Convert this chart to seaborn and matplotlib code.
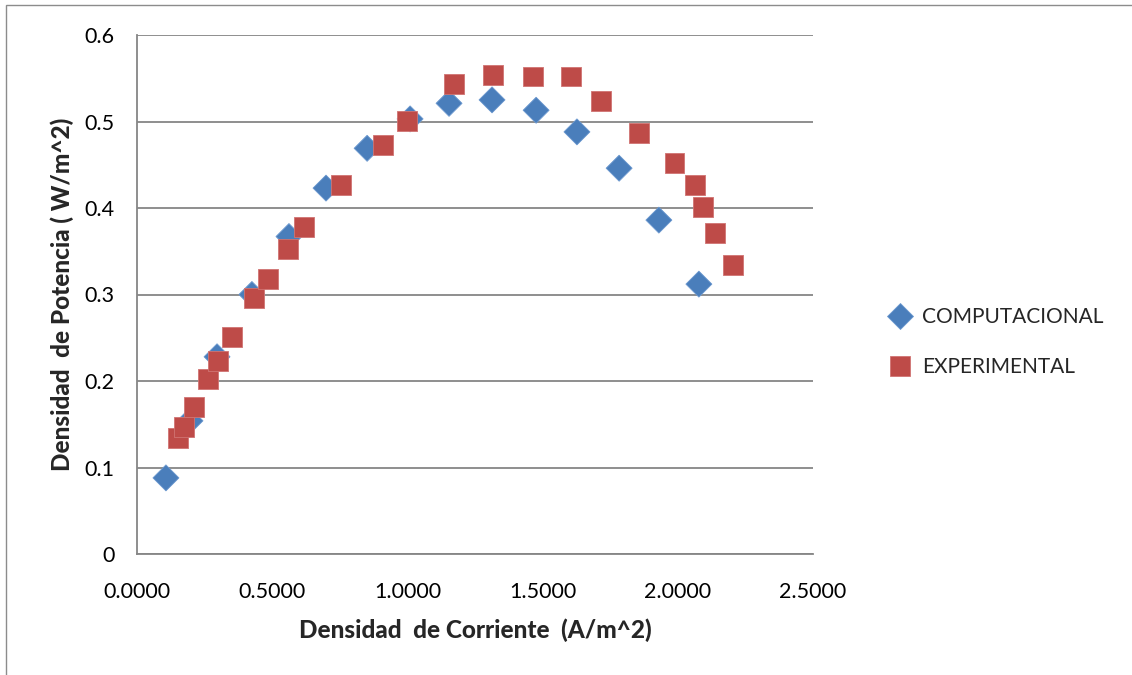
import matplotlib
matplotlib.use("Agg")
import matplotlib.pyplot as plt
import seaborn as sns
import pandas as pd
from matplotlib.patches import Rectangle
from matplotlib.ticker import FormatStrFormatter

comp_x = [0.107, 0.196, 0.296, 0.425, 0.562, 0.699, 0.851, 1.010, 1.154, 1.313,
          1.476, 1.627, 1.783, 1.930, 2.078]
comp_y = [0.088, 0.154, 0.228, 0.300, 0.367, 0.423, 0.469, 0.503, 0.521, 0.525,
          0.513, 0.488, 0.446, 0.386, 0.312]

exp_x = [0.152, 0.174, 0.211, 0.263, 0.300, 0.351, 0.433, 0.484, 0.558, 0.618,
         0.754, 0.910, 0.998, 1.172, 1.316, 1.464, 1.605, 1.716, 1.855, 1.988,
         2.063, 2.092, 2.137, 2.204]
exp_y = [0.134, 0.147, 0.170, 0.202, 0.223, 0.251, 0.296, 0.318, 0.353, 0.378,
         0.427, 0.473, 0.501, 0.543, 0.554, 0.552, 0.552, 0.524, 0.487, 0.452,
         0.427, 0.401, 0.371, 0.334]

series_names = ["COMPUTACIONAL", "EXPERIMENTAL"]
x_ticks = [0.0, 0.5, 1.0, 1.5, 2.0, 2.5]
y_ticks = [0, 0.1, 0.2, 0.3, 0.4, 0.5, 0.6]

df = pd.concat([
    pd.DataFrame({"x": comp_x, "y": comp_y, "serie": series_names[0]}),
    pd.DataFrame({"x": exp_x, "y": exp_y, "serie": series_names[1]}),
])

sns.set_style("white")
plt.rcParams["font.family"] = ["Lato", "DejaVu Sans"]

fig = plt.figure(figsize=(11.32, 6.75), dpi=100)
ax = fig.add_axes([137 / 1132, 1 - 554 / 675, (813 - 137) / 1132, (554 - 35) / 675])

# chart-area border
fig.patches.append(Rectangle((6 / 1132, -0.01), 1.2, 1 - 5 / 675 + 0.01,
                             transform=fig.transFigure, fill=False,
                             edgecolor="#8c8c8c", linewidth=1.0))

ax.set_axisbelow(True)
ax.yaxis.grid(True, color="#868686", linewidth=1.3)
ax.xaxis.grid(False)

palette = {"COMPUTACIONAL": "#4A7EBB", "EXPERIMENTAL": "#BE4B48"}
sns.scatterplot(data=df[df.serie == series_names[0]], x="x", y="y", hue="serie",
                palette=palette, marker="D", s=175, edgecolor="#6b98cf",
                linewidth=0.6, ax=ax, zorder=3)
sns.scatterplot(data=df[df.serie == series_names[1]], x="x", y="y", hue="serie",
                palette=palette, marker="s", s=205, edgecolor="#d07472",
                linewidth=0.6, ax=ax, zorder=3)

ax.set_xlim(0, 2.5)
ax.set_ylim(0, 0.6)
ax.set_xticks(x_ticks)
ax.set_yticks(y_ticks)
ax.xaxis.set_major_formatter(FormatStrFormatter("%.4f"))
ax.set_yticklabels(["0", "0.1", "0.2", "0.3", "0.4", "0.5", "0.6"])

for s in ["top", "right"]:
    ax.spines[s].set_visible(False)
for s in ["left", "bottom"]:
    ax.spines[s].set_color("#868686")
    ax.spines[s].set_linewidth(1.3)

ax.tick_params(axis="both", which="major", length=6, width=1.3, color="#868686",
               labelsize=15.5, labelcolor="black", direction="out")
ax.tick_params(axis="x", pad=14)
ax.tick_params(axis="y", pad=10)

ax.set_xlabel("Densidad  de Corriente  (A/m^2)", fontsize=17.5, fontweight="black",
              labelpad=12)
ax.set_ylabel("Densidad  de Potencia ( W/m^2)", fontsize=17.5, fontweight="black",
              labelpad=8)

leg = ax.legend(loc="center left", bbox_to_anchor=(1.07, 0.408), frameon=False,
                fontsize=15, handletextpad=0.05, labelspacing=1.45, markerscale=1.0,
                title=None)

fig.savefig("out.png", dpi=100)
